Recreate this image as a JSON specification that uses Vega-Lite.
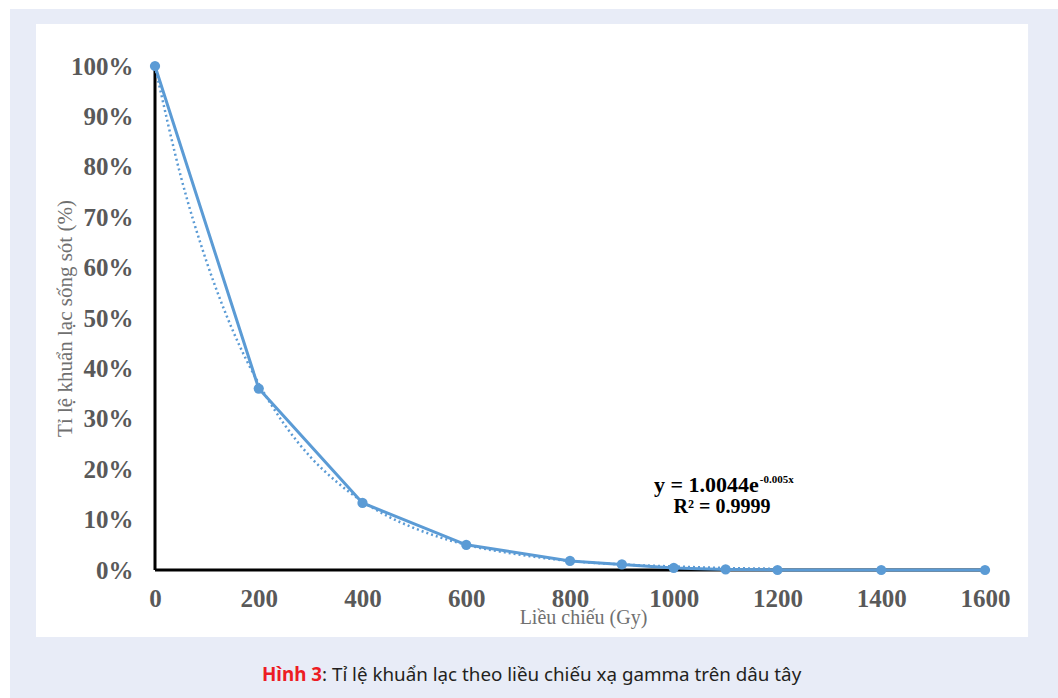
{
  "$schema": "https://vega.github.io/schema/vega-lite/v6.json",
  "autosize": {"type": "none"},
  "width": 830,
  "height": 504,
  "padding": {"left": 155, "top": 66, "right": 73, "bottom": 128},
  "background": "#ffffff",
  "config": {
    "view": {"stroke": null},
    "axis": {"grid": false, "ticks": false, "domain": false, "labelFlush": false, "labelOverlap": false}
  },
  "datasets": {
    "main": [
      {"dose": 0, "rate": 1.0},
      {"dose": 200, "rate": 0.36},
      {"dose": 400, "rate": 0.133},
      {"dose": 600, "rate": 0.05},
      {"dose": 800, "rate": 0.018},
      {"dose": 900, "rate": 0.011},
      {"dose": 1000, "rate": 0.004},
      {"dose": 1100, "rate": 0.001},
      {"dose": 1200, "rate": 0.0},
      {"dose": 1400, "rate": 0.0},
      {"dose": 1600, "rate": 0.0}
    ],
    "trend": [
      {"dose": 0, "rate": 1.0},
      {"dose": 50, "rate": 0.78},
      {"dose": 100, "rate": 0.61},
      {"dose": 150, "rate": 0.475},
      {"dose": 200, "rate": 0.37},
      {"dose": 250, "rate": 0.288},
      {"dose": 300, "rate": 0.224},
      {"dose": 350, "rate": 0.175},
      {"dose": 400, "rate": 0.136},
      {"dose": 450, "rate": 0.106},
      {"dose": 500, "rate": 0.083},
      {"dose": 600, "rate": 0.05},
      {"dose": 700, "rate": 0.031},
      {"dose": 800, "rate": 0.018},
      {"dose": 900, "rate": 0.011},
      {"dose": 1000, "rate": 0.007},
      {"dose": 1100, "rate": 0.004},
      {"dose": 1200, "rate": 0.0025}
    ]
  },
  "layer": [
    {
      "data": {"values": [{}]},
      "mark": {"type": "rect", "fill": "#e8ecf7"},
      "encoding": {
        "x": {"datum": -279.5, "type": "quantitative", "scale": {"domain": [0, 1600], "nice": false, "zero": false}, "axis": {"zindex": 2, "values": [0, 200, 400, 600, 800, 1000, 1200, 1400, 1600], "format": "d", "title": "Liều chiếu (Gy)", "labelFont": "Liberation Serif", "labelFontWeight": "bold", "labelFontSize": 25, "labelColor": "#595959", "labelPadding": 16, "titleFont": "Liberation Serif", "titleFontWeight": "normal", "titleFontSize": 20, "titleColor": "#707070", "titleX": 428, "titleY": 47, "titleBaseline": "middle", "titleAlign": "center"}},
        "x2": {"datum": 1760},
        "y": {"datum": 1.113, "type": "quantitative", "scale": {"domain": [0, 1], "nice": false, "zero": false}, "axis": {"zindex": 2, "values": [0, 0.1, 0.2, 0.3, 0.4, 0.5, 0.6, 0.7, 0.8, 0.9, 1.0], "format": ".0%", "title": "Tỉ lệ khuẩn lạc sống sót (%)", "labelFont": "Liberation Serif", "labelFontWeight": "bold", "labelFontSize": 25, "labelColor": "#595959", "labelPadding": 22, "titleFont": "Liberation Serif", "titleFontWeight": "normal", "titleFontSize": 21, "titleColor": "#707070", "titleX": -90, "titleY": 252, "titleAngle": -90, "titleBaseline": "middle", "titleAlign": "center"}},
        "y2": {"datum": -0.27}
      }
    },
    {
      "data": {"values": [{}]},
      "mark": {"type": "rect", "fill": "#ffffff"},
      "encoding": {
        "x": {"datum": -229.4, "type": "quantitative"},
        "x2": {"datum": 1683},
        "y": {"datum": 1.0833, "type": "quantitative"},
        "y2": {"datum": -0.133}
      }
    },
    {
      "data": {"values": [{}]},
      "mark": {"type": "rule", "stroke": "#000000", "strokeWidth": 3},
      "encoding": {
        "x": {"datum": 0, "type": "quantitative"},
        "y": {"datum": 0, "type": "quantitative"},
        "y2": {"datum": 1}
      }
    },
    {
      "data": {"values": [{}]},
      "mark": {"type": "rule", "stroke": "#000000", "strokeWidth": 3},
      "encoding": {
        "x": {"datum": 0, "type": "quantitative"},
        "x2": {"datum": 1600},
        "y": {"datum": 0, "type": "quantitative"}
      }
    },
    {
      "data": {"name": "trend"},
      "mark": {"type": "line", "stroke": "#5b9bd5", "strokeWidth": 2.5, "strokeDash": [2, 3], "interpolate": "monotone"},
      "encoding": {
        "x": {"field": "dose", "type": "quantitative"},
        "y": {"field": "rate", "type": "quantitative"}
      }
    },
    {
      "data": {"name": "main"},
      "mark": {"type": "line", "stroke": "#5b9bd5", "strokeWidth": 3, "point": {"filled": true, "fill": "#5b9bd5", "size": 105}},
      "encoding": {
        "x": {"field": "dose", "type": "quantitative"},
        "y": {"field": "rate", "type": "quantitative"}
      }
    },
    {
      "data": {"values": [{}]},
      "mark": {"type": "text", "text": "y = 1.0044e", "font": "Liberation Serif", "fontWeight": "bold", "fontSize": 22, "fill": "#000000", "align": "right", "baseline": "alphabetic"},
      "encoding": {
        "x": {"datum": 1164, "type": "quantitative"},
        "y": {"datum": 0.155, "type": "quantitative"}
      }
    },
    {
      "data": {"values": [{}]},
      "mark": {"type": "text", "text": "-0.005x", "font": "Liberation Serif", "fontWeight": "bold", "fontSize": 11, "fill": "#000000", "align": "left", "baseline": "alphabetic", "dx": 1},
      "encoding": {
        "x": {"datum": 1164, "type": "quantitative"},
        "y": {"datum": 0.1726, "type": "quantitative"}
      }
    },
    {
      "data": {"values": [{}]},
      "mark": {"type": "text", "text": "R² = 0.9999", "font": "Liberation Serif", "fontWeight": "bold", "fontSize": 20, "fill": "#000000", "align": "center", "baseline": "alphabetic"},
      "encoding": {
        "x": {"datum": 1093, "type": "quantitative"},
        "y": {"datum": 0.113, "type": "quantitative"}
      }
    },
    {
      "data": {"values": [{}]},
      "mark": {"type": "text", "text": "Hình 3", "font": "Noto Sans", "fontWeight": "bold", "fontSize": 18.8, "fill": "#ed1c24", "align": "right", "baseline": "alphabetic"},
      "encoding": {
        "x": {"datum": 322, "type": "quantitative"},
        "y": {"datum": -0.22, "type": "quantitative"}
      }
    },
    {
      "data": {"values": [{}]},
      "mark": {"type": "text", "text": ": Tỉ lệ khuẩn lạc theo liều chiếu xạ gamma trên dâu tây", "font": "Noto Sans", "fontWeight": "normal", "fontSize": 18.8, "fill": "#231f20", "align": "left", "baseline": "alphabetic"},
      "encoding": {
        "x": {"datum": 322, "type": "quantitative"},
        "y": {"datum": -0.22, "type": "quantitative"}
      }
    }
  ]
}
